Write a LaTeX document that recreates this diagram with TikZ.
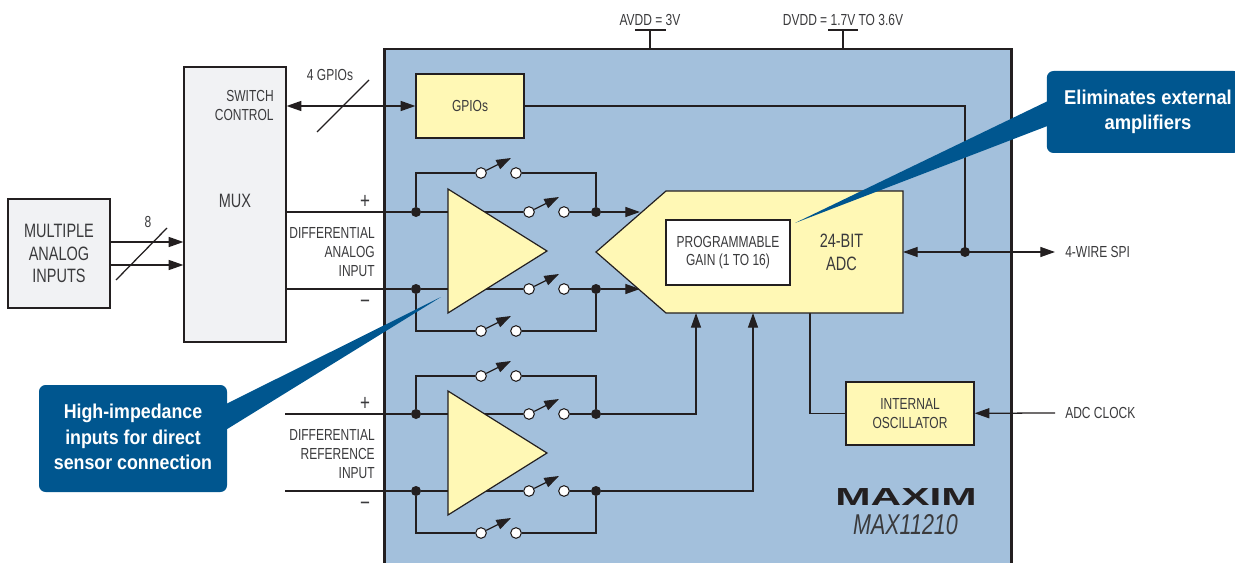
\documentclass[tikz,border=0pt]{standalone}
\usepackage{fontspec}
\usepackage{xcolor}
\usetikzlibrary{arrows.meta}
\usetikzlibrary{positioning}
\setmainfont[FakeStretch=0.75]{Liberation Sans}
\newfontfamily\calloutfont[FakeStretch=0.92]{Liberation Sans}
\newfontfamily\calloutnarrow[FakeStretch=0.89]{Liberation Sans}
\newfontfamily\logofont[FakeStretch=1.72]{Liberation Sans}
\definecolor{chipblue}{HTML}{A3C0DC}
\definecolor{boxyellow}{HTML}{FFF8B5}
\definecolor{muxgray}{HTML}{F1F2F4}
\definecolor{calloutblue}{HTML}{00568F}
\definecolor{inkgray}{HTML}{3A3A3C}
\definecolor{wireblack}{HTML}{231F20}
\begin{document}
\begin{tikzpicture}[
  x=0.75pt, y=-0.75pt,
  every node/.style={inner sep=0pt, align=center, text=inkgray, font=\fontsize{12}{14}\selectfont},
  wire/.style={draw=wireblack, line width=0.95pt},
  ybox/.style={draw=wireblack, fill=boxyellow, line width=0.9pt},
  gbox/.style={draw=wireblack, fill=muxgray, line width=0.9pt},
  bigtext/.style={font=\fontsize{14.5}{17}\selectfont},
  signtext/.style={font=\fontsize{17}{17}\selectfont},
  dot/.style={circle, fill=wireblack, minimum size=7.5pt},
  contact/.style={circle, draw=wireblack, fill=white, line width=0.8pt, minimum size=8pt},
  callout/.style={fill=calloutblue, rounded corners=5pt, text=white},
]
\tikzset{>={Stealth[length=11pt, width=7.5pt, inset=0pt]}}
\clip (0,0) rectangle (1235,563);

\node (chip) [draw=wireblack, fill=chipblue, line width=2pt, minimum width=470pt, minimum height=413pt] at (698,324.5) {};
\node (multi) [gbox, bigtext, minimum width=76.5pt, minimum height=81.75pt] at (59,253.5) {MULTIPLE\\ANALOG\\INPUTS};
\node (mux) [gbox, minimum width=76.5pt, minimum height=206.25pt] at (235,204.5) {};
\node (muxname) [bigtext] at (235,201) {MUX};
\node (switchctl) [align=right, left=0pt of mux.north east, xshift=-9.5pt, yshift=-29.5pt] {SWITCH\\CONTROL};
\node (gpio) [ybox, minimum width=81pt, minimum height=48pt] at (470,106) {GPIOs};
\node (gpiotext) at (330,75) {4 GPIOs};
\node (eight) at (148,222) {8};
\node (avdd) at (650,20) {AVDD = 3V};
\node (dvdd) at (843,20) {DVDD = 1.7V TO 3.6V};

\coordinate (avddpin) at (650,30);
\coordinate (avddl) at (635,30);
\coordinate (avddr) at (666,30);
\coordinate (dvddpin) at (843,30);
\coordinate (dvddl) at (828,30);
\coordinate (dvddr) at (858,30);
\draw[wire] (avddl) -- (avddr);
\draw[wire] (avddpin) -- (avddpin |- chip.north);
\draw[wire] (dvddl) -- (dvddr);
\draw[wire] (dvddpin) -- (dvddpin |- chip.north);

\coordinate (ma) at (110,242);
\coordinate (mb) at (110,265);
\draw[wire,->] (ma) -- (ma -| mux.west);
\draw[wire,->] (mb) -- (mb -| mux.west);
\coordinate (slasha) at (116,280);
\coordinate (slashb) at (167,228);
\draw[wire] (slasha) -- (slashb);
\draw[wire,<->] (gpio -| mux.east) -- (gpio);
\coordinate (slashc) at (317,132);
\coordinate (slashd) at (369,80);
\draw[wire] (slashc) -- (slashd);

\foreach \nm/\x/\y in {su/481/173, sv/529/212, sw/529/289, sx/481/331, sp/481/376, sq/529/414, sr/529/491, ss/481/533} {
  \node (\nm l) [contact] at (\x,\y) {};
  \node (\nm r) [contact] at (\x+35,\y) {};
  \coordinate (\nm t) at (\x+30,\y-15);
  \draw[wire,->] (\nm l) -- (\nm t);
}

\node (daa) [dot] at (416,212) {};
\node (dab) [dot] at (596,212) {};
\node (dac) [dot] at (416,289) {};
\node (dad) [dot] at (596,289) {};
\node (dra) [dot] at (416,414) {};
\node (drb) [dot] at (596,414) {};
\node (drc) [dot] at (416,491) {};
\node (drd) [dot] at (596,491) {};

\draw[wire] (daa -| mux.east) -- (daa);
\draw[wire] (dac -| mux.east) -- (dac);
\coordinate (refp) at (285,414);
\coordinate (refn) at (285,491);
\draw[wire] (refp) -- (dra);
\draw[wire] (refn) -- (drc);

\draw[wire] (daa) -- (svl);
\draw[wire] (dac) -- (swl);
\draw[wire] (dra) -- (sql);
\draw[wire] (drc) -- (srl);
\draw[wire] (svr) -- (dab);
\draw[wire] (swr) -- (dad);
\draw[wire] (sqr) -- (drb);
\draw[wire] (srr) -- (drd);
\draw[wire] (daa) |- (sul);
\draw[wire] (sur) -| (dab);
\draw[wire] (dac) |- (sxl);
\draw[wire] (sxr) -| (dad);
\draw[wire] (dra) |- (spl);
\draw[wire] (spr) -| (drb);
\draw[wire] (drc) |- (ssl);
\draw[wire] (ssr) -| (drd);

\coordinate (adcin) at (640,212);
\coordinate (adcim) at (640,289);
\coordinate (adcref) at (696,313);
\coordinate (adcren) at (753,313);
\draw[wire,->] (dab) -- (adcin);
\draw[wire,->] (dad) -- (adcim);
\draw[wire,->] (drb) -| (adcref);
\draw[wire,->] (drd) -| (adcren);

\coordinate (spibus) at (965,252);
\coordinate (spiend) at (1055,252);
\coordinate (adcright) at (903,252);
\draw[wire] (gpio) -| (spibus);
\draw[wire,<->] (adcright) -- (spiend);
\node (spidot) [dot] at (spibus) {};

\node (osc) [ybox, minimum width=96pt, minimum height=47.25pt] at (910,413.5) {INTERNAL\\OSCILLATOR};
\coordinate (adcout) at (810,313);
\coordinate (clkend) at (1055,413);
\draw[wire] (adcout) |- (osc);
\draw[wire,->] (clkend) -- (osc);

\draw[ybox] (596,252) -- (666,191) -- (903,191) -- (903,313) -- (666,313) -- cycle;
\draw[ybox] (448,189) -- (448,313) -- (547,251) -- cycle;
\draw[ybox] (448,391) -- (448,515) -- (547,453) -- cycle;

\node (pga) [draw=wireblack, fill=white, line width=0.9pt, minimum width=93pt, minimum height=48.75pt] at (728,252.5) {PROGRAMMABLE\\GAIN (1 TO 16)};
\node (adcname) [bigtext] at (841.5,252.5) {24-BIT\\ADC};

\node (spilabel) [right=10pt of spiend, anchor=west, xshift=-2.5pt] {4-WIRE SPI};
\node (clklabel) [right=10pt of clkend, anchor=west, xshift=-2.5pt] {ADC CLOCK};
\node (diffa) [align=right, anchor=east] at (375,252) {DIFFERENTIAL\\ANALOG\\INPUT};
\node (diffr) [align=right, anchor=east] at (375,454) {DIFFERENTIAL\\REFERENCE\\INPUT};
\node (pa) [signtext] at (365,202) {+};
\node (na) [signtext] at (365,304) {\textminus};
\node (pr) [signtext] at (365,404) {+};
\node (nr) [signtext] at (365,506) {\textminus};

\node (logo) [font=\logofont\bfseries\fontsize{18.5}{20}\selectfont, text=wireblack] at (906,497) {MAXIM};
\node (part) [font=\itshape\fontsize{21.5}{22}\selectfont] at (905.5,525) {MAX11210};

\node (tipa) at (795,223) {};
\node (tipb) at (441,297) {};
\coordinate (taila) at (1050,100);
\coordinate (tailb) at (1050,125);
\coordinate (tailc) at (224,405);
\coordinate (taild) at (224,431);
\fill[calloutblue] (taila) -- (tipa.center) -- (tailb) -- cycle;
\fill[calloutblue] (tailc) -- (tipb.center) -- (taild) -- cycle;
\node (calla) [callout, minimum width=145pt, minimum height=61.5pt] at (1143.5,112) {};
\node (callatext) [text=white, font=\calloutfont\bfseries\fontsize{15}{19}\selectfont] at (1148,112) {Eliminates external\\amplifiers};
\node (callb) [callout, minimum width=141pt, minimum height=80.25pt] at (133,438.5) {};
\node (callbtext) [text=white, font=\calloutnarrow\bfseries\fontsize{15}{19}\selectfont] at (133,437) {High-impedance\\inputs for direct\\sensor connection};
\end{tikzpicture}
\end{document}
